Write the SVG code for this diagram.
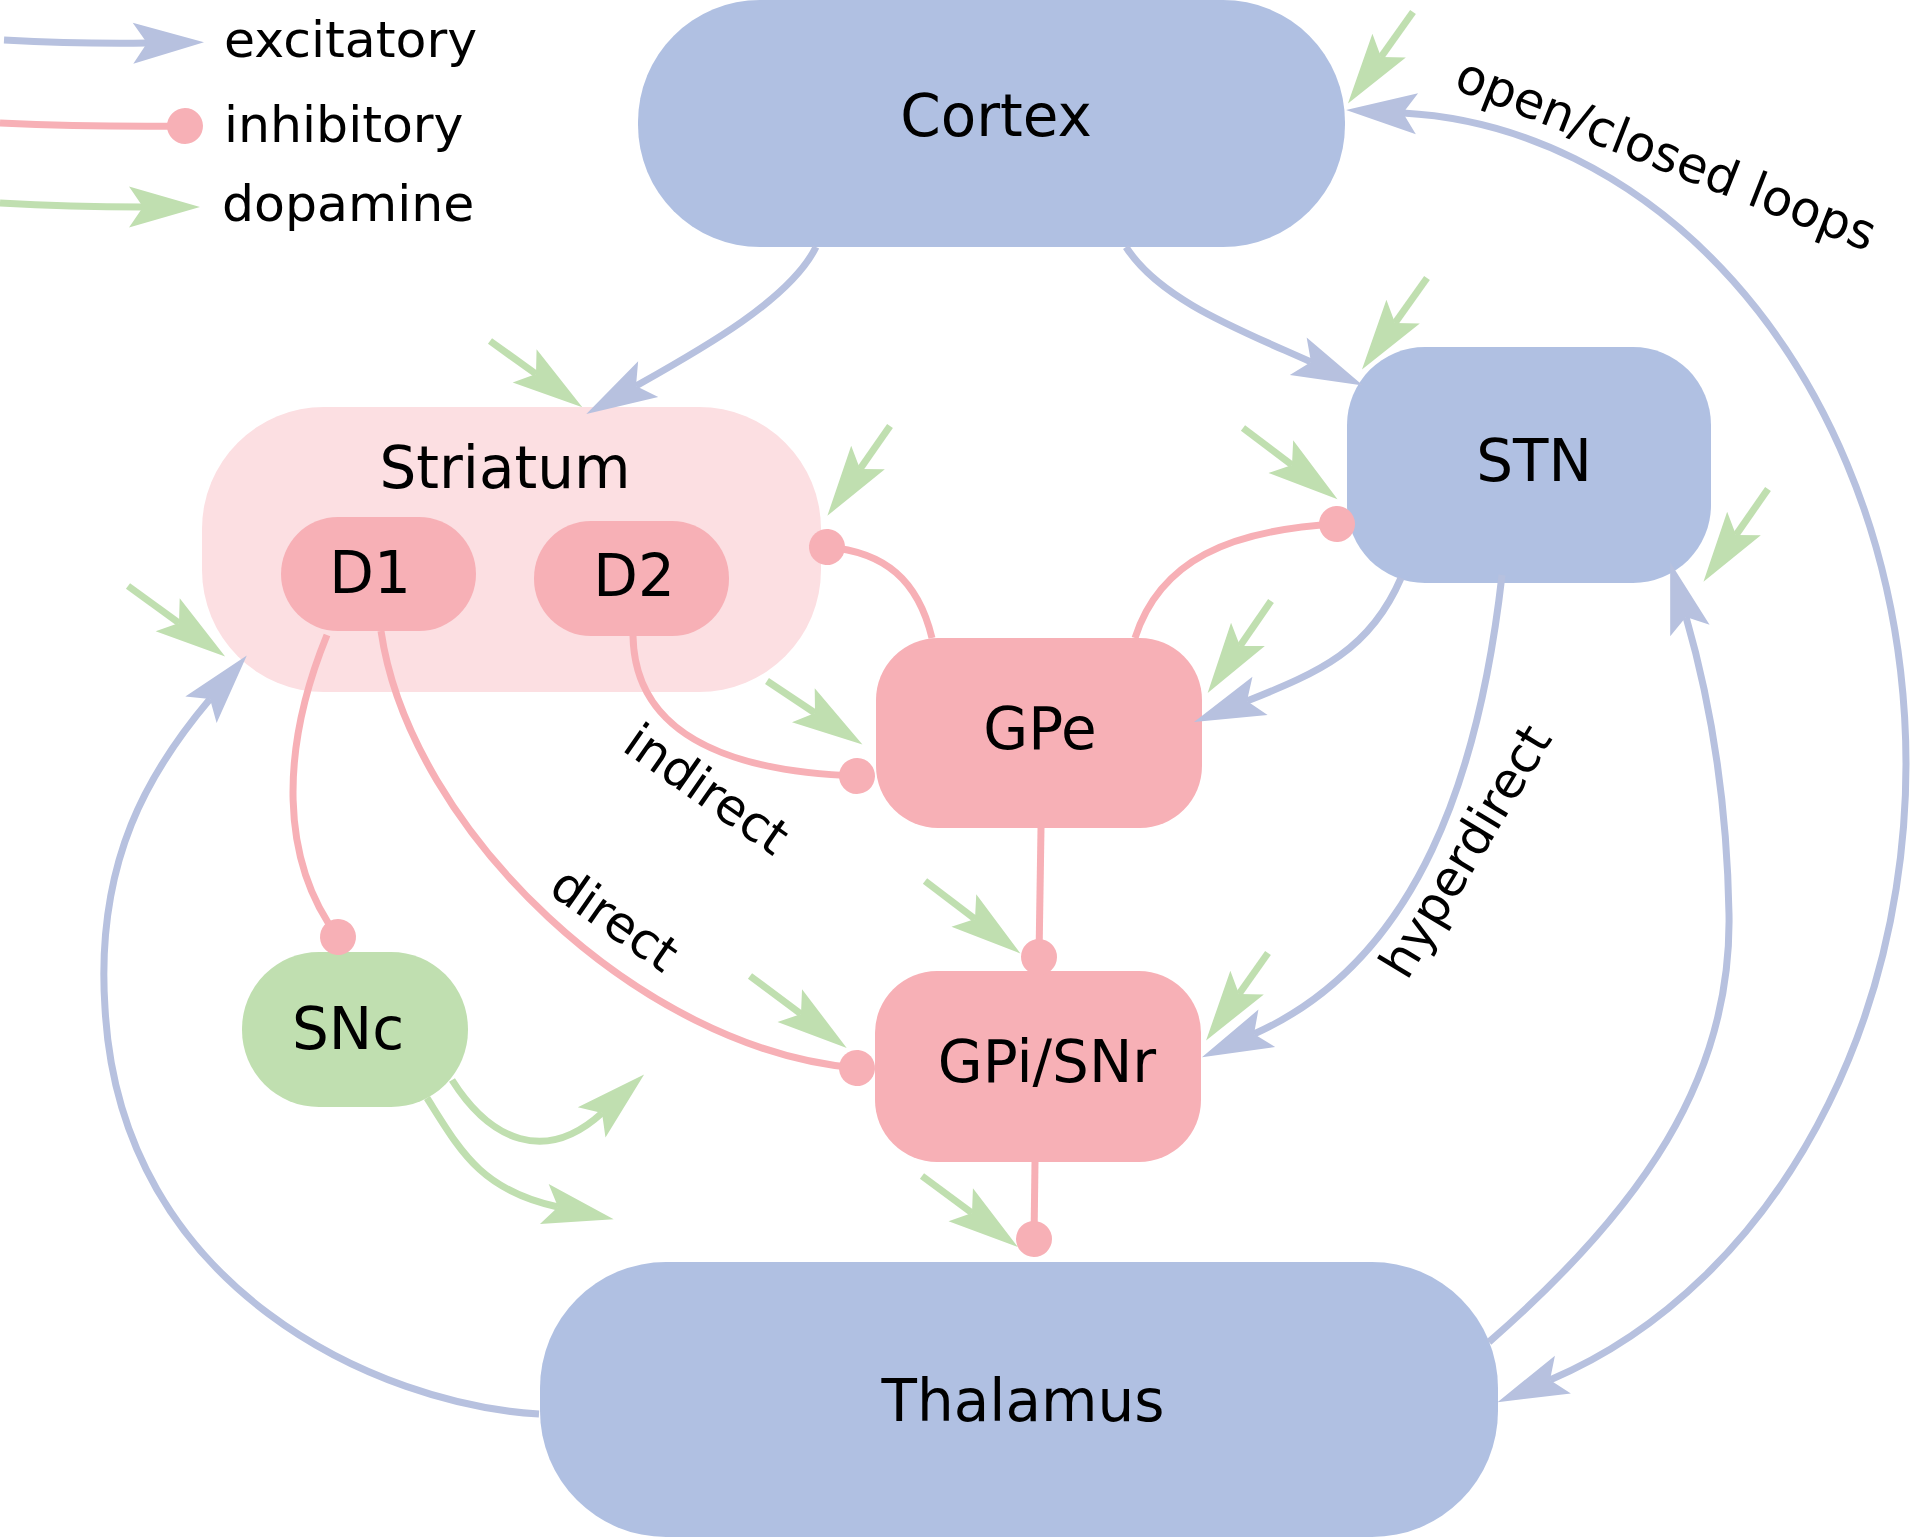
<svg xmlns="http://www.w3.org/2000/svg" width="1910" height="1538" viewBox="0 0 1910 1538">
<style>
text{font-family:"DejaVu Sans","Liberation Sans",sans-serif;fill:#000}
.node{font-size:58px;text-anchor:middle}
.leg{font-size:50.5px}
.lab{font-size:49.5px;text-anchor:middle}
.blue{fill:#b0c0e2}
.pinkn{fill:#f7b0b6}
.str{fill:#fcdfe2}
.grn{fill:#c0dfb0}
.exc{fill:none;stroke:#b7c1df;stroke-width:7;marker-end:url(#ahb)}
.inh{fill:none;stroke:#f7b0b6;stroke-width:7;marker-end:url(#dot)}
.dop{fill:none;stroke:#c0dfb0;stroke-width:7;marker-end:url(#ahg)}
</style>
<defs>
<marker id="ahb" markerUnits="userSpaceOnUse" orient="auto-start-reverse" overflow="visible" markerWidth="1" markerHeight="1" refX="0" refY="0"><path d="M57,0 L-14,-20.5 L0,0 L-14,20.5 Z" fill="#b7c1df"/></marker>
<marker id="ahg" markerUnits="userSpaceOnUse" orient="auto" overflow="visible" markerWidth="1" markerHeight="1" refX="0" refY="0"><path d="M57,0 L-14,-20.5 L0,0 L-14,20.5 Z" fill="#c0dfb0"/></marker>
<marker id="dot" markerUnits="userSpaceOnUse" orient="auto" overflow="visible" markerWidth="1" markerHeight="1" refX="0" refY="0"><circle cx="0" cy="0" r="18" fill="#f7b0b6"/></marker>
</defs>

<g id="legend">
<path class="exc" d="M4,40 Q80,44 147,43"/>
<text class="leg" x="224" y="57">excitatory</text>
<path class="inh" d="M0,123 Q90,127 185,126"/>
<text class="leg" x="224" y="142">inhibitory</text>
<path class="dop" d="M0,203 Q70,207 143,207"/>
<text class="leg" x="222" y="221">dopamine</text>
</g>

<g id="cortex"><rect class="blue" x="638" y="0" width="707" height="247" rx="122"/><text class="node" x="996" y="136">Cortex</text></g>
<g id="striatum"><rect class="str" x="202" y="407" width="619" height="285" rx="122"/><text class="node" x="505" y="488">Striatum</text></g>
<g id="d1"><rect class="pinkn" x="281" y="517" width="195" height="114" rx="57"/><text class="node" x="370" y="593">D1</text></g>
<g id="d2"><rect class="pinkn" x="534" y="521" width="195" height="115" rx="57"/><text class="node" x="634" y="596">D2</text></g>
<g id="stn"><rect class="blue" x="1347" y="347" width="364" height="236" rx="78"/><text class="node" x="1534" y="481">STN</text></g>
<g id="gpe"><rect class="pinkn" x="876" y="638" width="326" height="190" rx="62"/><text class="node" x="1040" y="749">GPe</text></g>
<g id="gpi"><rect class="pinkn" x="875" y="971" width="326" height="191" rx="62"/><text class="node" x="1047" y="1082">GPi/SNr</text></g>
<g id="snc"><rect class="grn" x="242" y="952" width="226" height="155" rx="77"/><text class="node" x="348" y="1049">SNc</text></g>
<g id="thalamus"><rect class="blue" x="540" y="1262" width="958" height="275" rx="126"/><text class="node" x="1023" y="1421">Thalamus</text></g>

<g id="connectors">
<path class="exc" d="M816,247 C790,300 700,350 636,386"/>
<path class="exc" d="M1126,247 C1160,300 1240,330 1311,362"/>
<path class="exc" d="M1401,578 C1370,650 1320,672 1247,701"/>
<path class="exc" d="M1502,575 C1480,770 1420,960 1254,1034"/>
<path class="exc" d="M1489,1342 C1640,1210 1732,1080 1729,914 C1727,800 1710,700 1686,617"/>
<path class="exc" d="M539,1414 C380,1405 120,1290 105,1008 C95,860 150,770 210,699"/>
<path class="exc" style="marker-start:url(#ahb)" d="M1403,113 A526,651.3 0 0 1 1550,1380"/>

<path class="inh" d="M932,638 C918,580 885,552 827,547"/>
<path class="inh" d="M1135,638 C1160,560 1230,530 1337,524"/>
<path class="inh" d="M633,636 C635,740 740,772 857,776"/>
<path class="inh" d="M1041,828 L1039,957"/>
<path class="inh" d="M381,631 C410,830 640,1050 857,1068"/>
<path class="inh" d="M327,635 C280,750 280,860 338,937"/>
<path class="inh" d="M1035,1162 L1034,1239"/>

<path class="dop" d="M1413,12 L1381,57"/>
<path class="dop" d="M490,341 L536,374"/>
<path class="dop" d="M890,426 L860,469"/>
<path class="dop" d="M1427,278 L1395,323"/>
<path class="dop" d="M1243,428 L1292,465"/>
<path class="dop" d="M1768,489 L1736,535"/>
<path class="dop" d="M1271,601 L1240,646"/>
<path class="dop" d="M767,681 L815,713"/>
<path class="dop" d="M128,586 L179,623"/>
<path class="dop" d="M925,881 L975,919"/>
<path class="dop" d="M750,976 L801,1014"/>
<path class="dop" d="M1268,953 L1239,994"/>
<path class="dop" d="M922,1176 L972,1213"/>
<path class="dop" d="M452,1080 C490,1140 545,1165 602,1113"/>
<path class="dop" d="M427,1098 C460,1150 480,1190 558,1207"/>
</g>

<g id="labels">
<text class="lab" transform="translate(697,803) rotate(35)">indirect</text>
<text class="lab" transform="translate(605,933) rotate(35)">direct</text>
<text class="lab" transform="translate(1480,860) rotate(-59)">hyperdirect</text>
<text class="lab" transform="translate(1660,170) rotate(21.5)">open/closed loops</text>
</g>
</svg>
